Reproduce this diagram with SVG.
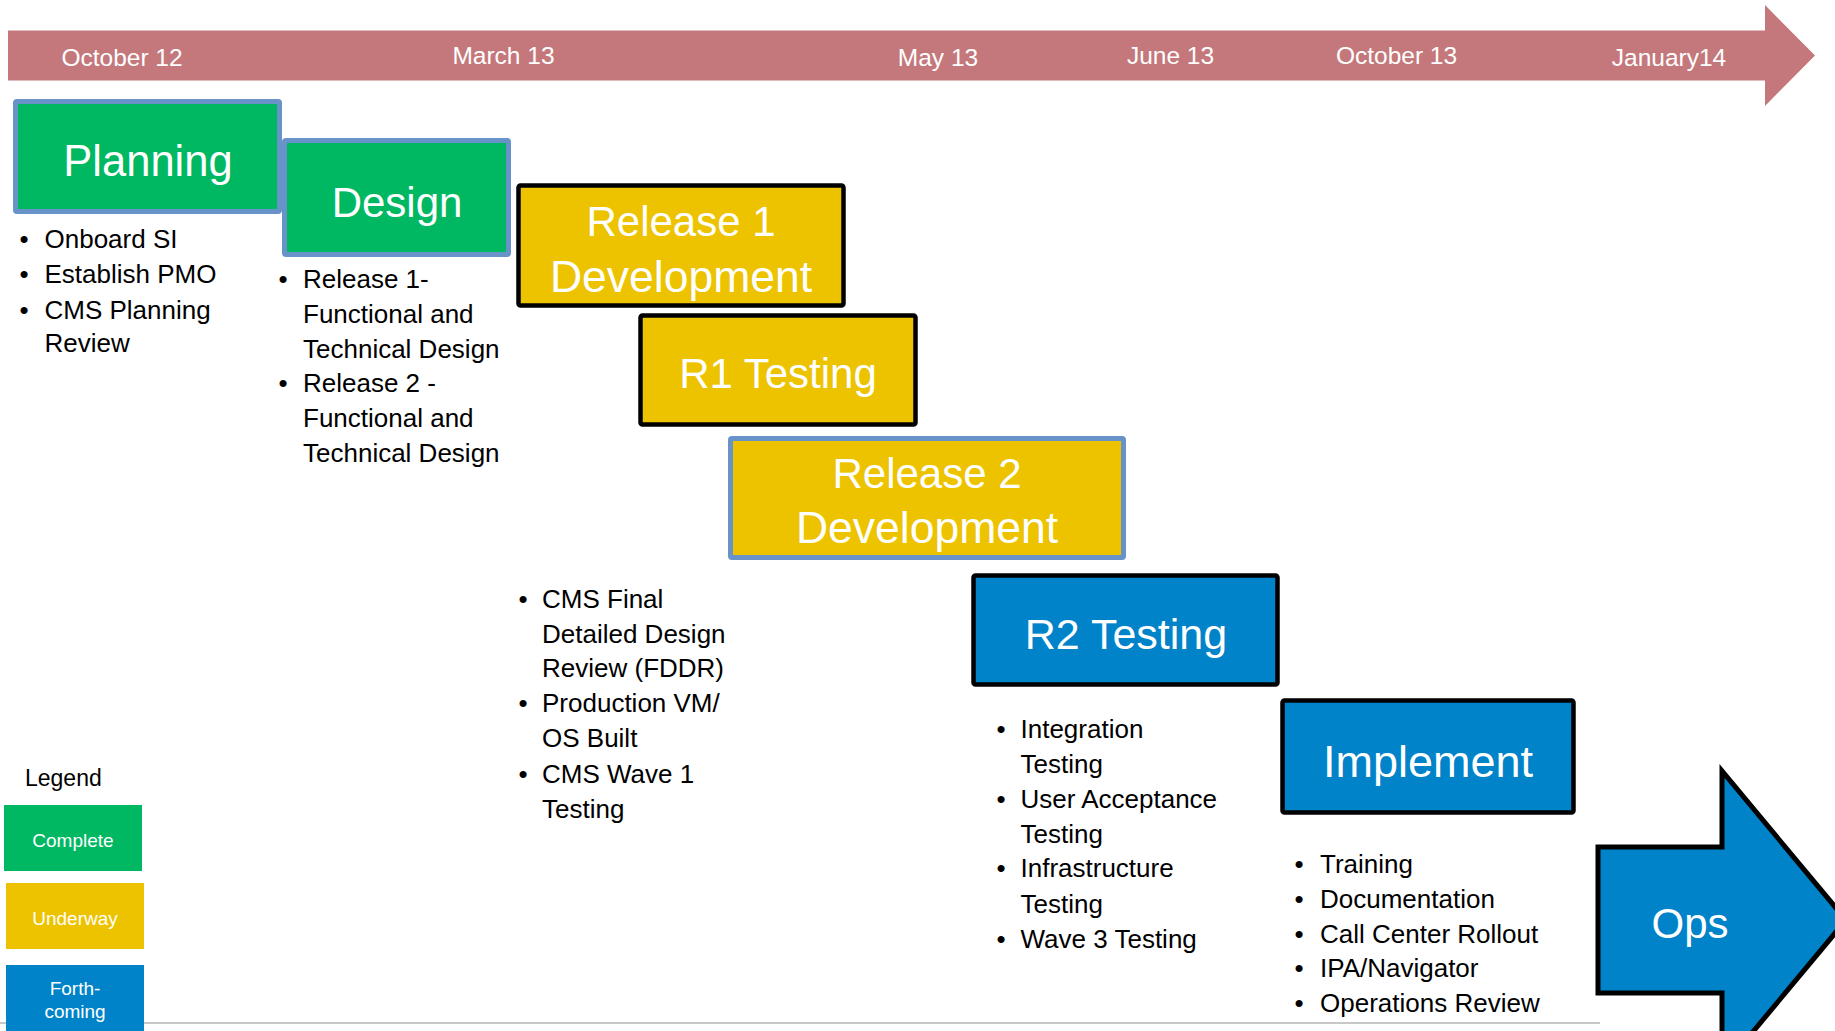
<svg xmlns="http://www.w3.org/2000/svg" width="1835" height="1031" viewBox="0 0 1835 1031">
<style>
  text { font-family: "Liberation Sans", Arial, sans-serif; }
  .date { fill: #ffffff; font-size: 24.5px; text-anchor: middle; }
  .title { fill: #ffffff; font-size: 42px; text-anchor: middle; }
  .bul { fill: #000000; font-size: 26px; }
  .dot { fill: #000000; font-size: 26px; text-anchor: middle; }
  .green { fill: #00B862; stroke: #6793C8; stroke-width: 5; }
  .yellowB { fill: #EDC300; stroke: #000000; stroke-width: 4.5; }
  .yellowL { fill: #EDC300; stroke: #6793C8; stroke-width: 5; }
  .blueB { fill: #0083C9; stroke: #000000; stroke-width: 4.5; }
  .leg { fill: #ffffff; font-size: 19px; text-anchor: middle; }
</style>

<rect x="0" y="0" width="1835" height="1031" fill="#ffffff"/>

<line x1="0" y1="1023" x2="1600" y2="1023" stroke="#C8C8C8" stroke-width="2"/>

<g id="timeline">
  <polygon points="8,30.5 1765,30.5 1765,5 1815,55.5 1765,106 1765,80.5 8,80.5" fill="#C4787B"/>
  <text class="date" x="122" y="66">October 12</text>
  <text class="date" x="503.5" y="64">March 13</text>
  <text class="date" x="938" y="66">May 13</text>
  <text class="date" x="1170.5" y="64">June 13</text>
  <text class="date" x="1396.5" y="64">October 13</text>
  <text class="date" x="1669" y="66">January14</text>
</g>

<g id="planning">
  <rect class="green" x="15.5" y="101.5" width="264" height="110" rx="1.5"/>
  <text class="title" x="148" y="176" style="font-size:43.5px">Planning</text>
</g>

<g id="planning-notes">
  <text class="dot" x="24" y="248">•</text><text class="bul" x="44.5" y="248">Onboard SI</text>
  <text class="dot" x="24" y="283">•</text><text class="bul" x="44.5" y="283">Establish PMO</text>
  <text class="dot" x="24" y="319">•</text><text class="bul" x="44.5" y="319">CMS Planning</text>
  <text class="bul" x="44.5" y="352">Review</text>
</g>

<g id="design">
  <rect class="green" x="284.5" y="140.5" width="224" height="114" rx="1.5"/>
  <text class="title" x="397" y="217">Design</text>
</g>

<g id="design-notes">
  <text class="dot" x="283" y="288">•</text><text class="bul" x="303" y="288">Release 1-</text>
  <text class="bul" x="303" y="323">Functional and</text>
  <text class="bul" x="303" y="358">Technical Design</text>
  <text class="dot" x="283" y="392">•</text><text class="bul" x="303" y="392">Release 2 -</text>
  <text class="bul" x="303" y="427">Functional and</text>
  <text class="bul" x="303" y="462">Technical Design</text>
</g>

<g id="release1-dev">
  <rect class="yellowB" x="518.5" y="185.5" width="325" height="120" rx="2"/>
  <text class="title" x="681" y="236">Release 1</text>
  <text class="title" x="681" y="292" style="font-size:44.5px">Development</text>
</g>

<g id="r1-testing">
  <rect class="yellowB" x="640.5" y="315.5" width="275" height="109" rx="2"/>
  <text class="title" x="778" y="388">R1 Testing</text>
</g>

<g id="release2-dev">
  <rect class="yellowL" x="730.5" y="438.5" width="393" height="119" rx="1.5"/>
  <text class="title" x="927" y="488">Release 2</text>
  <text class="title" x="927" y="543" style="font-size:44.5px">Development</text>
</g>

<g id="release2-notes">
  <text class="dot" x="523" y="608">•</text><text class="bul" x="542" y="608">CMS Final</text>
  <text class="bul" x="542" y="643">Detailed Design</text>
  <text class="bul" x="542" y="677">Review (FDDR)</text>
  <text class="dot" x="523" y="712">•</text><text class="bul" x="542" y="712">Production VM/</text>
  <text class="bul" x="542" y="747">OS Built</text>
  <text class="dot" x="523" y="783">•</text><text class="bul" x="542" y="783">CMS Wave 1</text>
  <text class="bul" x="542" y="818">Testing</text>
</g>

<g id="r2-testing">
  <rect class="blueB" x="973.5" y="575.5" width="304" height="109" rx="2"/>
  <text class="title" x="1126" y="649" style="font-size:43px">R2 Testing</text>
</g>

<g id="r2-notes">
  <text class="dot" x="1001" y="738">•</text><text class="bul" x="1020.5" y="738">Integration</text>
  <text class="bul" x="1020.5" y="773">Testing</text>
  <text class="dot" x="1001" y="808">•</text><text class="bul" x="1020.5" y="808">User Acceptance</text>
  <text class="bul" x="1020.5" y="843">Testing</text>
  <text class="dot" x="1001" y="877">•</text><text class="bul" x="1020.5" y="877">Infrastructure</text>
  <text class="bul" x="1020.5" y="913">Testing</text>
  <text class="dot" x="1001" y="948">•</text><text class="bul" x="1020.5" y="948">Wave 3 Testing</text>
</g>

<g id="implement">
  <rect class="blueB" x="1282.5" y="700.5" width="291" height="112" rx="2"/>
  <text class="title" x="1428" y="777" style="font-size:45px">Implement</text>
</g>

<g id="implement-notes">
  <text class="dot" x="1299" y="873">•</text><text class="bul" x="1320" y="873">Training</text>
  <text class="dot" x="1299" y="908">•</text><text class="bul" x="1320" y="908">Documentation</text>
  <text class="dot" x="1299" y="943">•</text><text class="bul" x="1320" y="943">Call Center Rollout</text>
  <text class="dot" x="1299" y="977">•</text><text class="bul" x="1320" y="977">IPA/Navigator</text>
  <text class="dot" x="1299" y="1012">•</text><text class="bul" x="1320" y="1012">Operations Review</text>
</g>

<g id="ops">
  <polygon points="1598,847 1722,847 1722,771 1846,920 1722,1069 1722,993 1598,993" fill="#0083C9" stroke="#000000" stroke-width="5" stroke-linejoin="miter"/>
  <text class="title" x="1690" y="938">Ops</text>
</g>

<g id="legend">
  <text x="25" y="786" style="font-size:23px; fill:#000000">Legend</text>
  <g id="legend-complete">
    <rect x="4" y="805" width="138" height="66" fill="#00B862"/>
    <text class="leg" x="73" y="847">Complete</text>
  </g>
  <g id="legend-underway">
    <rect x="6" y="883" width="138" height="66" fill="#EDC300"/>
    <text class="leg" x="75" y="925">Underway</text>
  </g>
  <g id="legend-forthcoming">
    <rect x="6" y="965" width="138" height="66" fill="#0083C9"/>
    <text class="leg" x="75" y="995">Forth-</text>
    <text class="leg" x="75" y="1018">coming</text>
  </g>
</g>
</svg>
